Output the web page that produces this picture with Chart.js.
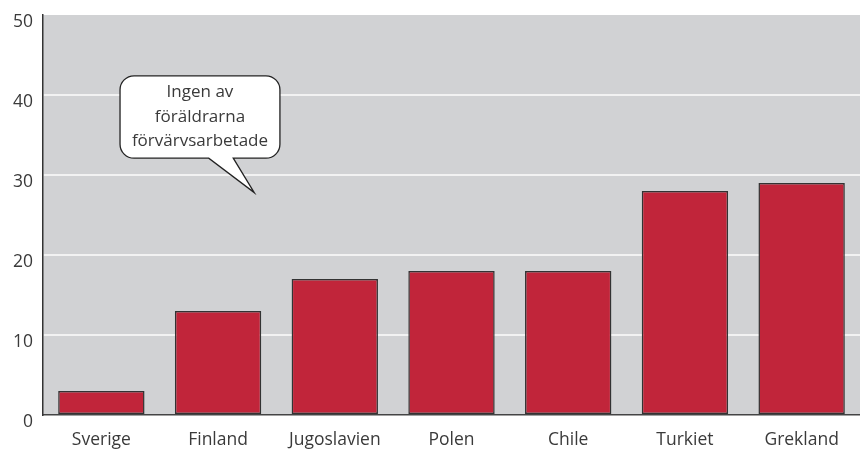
<!DOCTYPE html>
<html lang="sv">
<head>
  <meta charset="UTF-8" />
  <title>Ingen av föräldrarna förvärvsarbetade</title>
  <script src="https://cdn.jsdelivr.net/npm/chart.js"></script>
  <style>
    html, body { margin: 0; padding: 0; background: #fff; }
    .wrap { width: 860px; height: 450px; }
  </style>
</head>
<body>
  <div class="wrap"><canvas id="chart"></canvas></div>

<script>
const countries = ["Sverige", "Finland", "Jugoslavien", "Polen", "Chile", "Turkiet", "Grekland"];
const values = [3, 13, 17, 18, 18, 28, 29];
const yTicks = [0, 10, 20, 30, 40, 50];

const calloutLines = ["Ingen av", "föräldrarna", "förvärvsarbetade"];
// callout box in data units (category index, value)
const calloutBox = { x0: 0.16, x1: 1.53, y0: 32.1, y1: 42.4 };
const calloutTip = { x: 1.31, y: 27.8, base0: 0.92, base1: 1.13 };

const textColor = '#3a3a3a';
const fontFamily = "'Open Sans', 'Noto Sans', sans-serif";

// gray plot background
const plotBg = {
  id: 'plotBg',
  beforeDraw(chart) {
    const { ctx, chartArea: a } = chart;
    ctx.save();
    ctx.fillStyle = '#d1d2d4';
    ctx.fillRect(a.left, a.top, a.right - a.left, a.bottom - a.top);
    ctx.restore();
  }
};

// speech bubble
const callout = {
  id: 'callout',
  afterDatasetsDraw(chart) {
    const { ctx } = chart;
    const xs = chart.scales.x, ys = chart.scales.y;
    const px = v => xs.getPixelForValue(v);
    const py = v => ys.getPixelForValue(v);
    const l = px(calloutBox.x0), r = px(calloutBox.x1);
    const t = py(calloutBox.y1), b = py(calloutBox.y0);
    const rad = 14;
    ctx.save();
    ctx.beginPath();
    ctx.moveTo(l + rad, t);
    ctx.lineTo(r - rad, t);
    ctx.arcTo(r, t, r, t + rad, rad);
    ctx.lineTo(r, b - rad);
    ctx.arcTo(r, b, r - rad, b, rad);
    ctx.lineTo(px(calloutTip.base1), b);
    ctx.lineTo(px(calloutTip.x), py(calloutTip.y));
    ctx.lineTo(px(calloutTip.base0), b);
    ctx.lineTo(l + rad, b);
    ctx.arcTo(l, b, l, b - rad, rad);
    ctx.lineTo(l, t + rad);
    ctx.arcTo(l, t, l + rad, t, rad);
    ctx.closePath();
    ctx.fillStyle = '#fff';
    ctx.fill();
    ctx.lineWidth = 1.3;
    ctx.strokeStyle = '#222';
    ctx.stroke();

    ctx.fillStyle = textColor;
    ctx.font = "17px " + fontFamily;
    ctx.textAlign = 'center';
    ctx.textBaseline = 'middle';
    const cx = (l + r) / 2;
    const lh = 24.5;
    const cy = (t + b) / 2;
    calloutLines.forEach((s, i) => {
      ctx.fillText(s, cx, cy + (i - 1) * lh);
    });
    ctx.restore();
  }
};

new Chart(document.getElementById('chart'), {
  type: 'bar',
  data: {
    labels: countries,
    datasets: [{
      data: values,
      backgroundColor: '#c1253a',
      borderColor: '#333',
      borderWidth: 1.5,
      borderSkipped: false,
      categoryPercentage: 1,
      barPercentage: 0.74
    }]
  },
  options: {
    responsive: true,
    maintainAspectRatio: false,
    animation: false,
    layout: { padding: { top: 15, right: 0, left: 0, bottom: 0 } },
    plugins: {
      legend: { display: false },
      tooltip: { enabled: false }
    },
    scales: {
      x: {
        grid: { display: false, drawTicks: false },
        border: { display: true, color: '#444', width: 1.5 },
        ticks: {
          color: textColor,
          font: { size: 17.5, family: fontFamily },
          padding: 15,
          maxRotation: 0
        },
        afterFit(scale) {
          scale.height = 35;
          scale.paddingLeft = 0;
          scale.paddingRight = 0;
        }
      },
      y: {
        min: 0,
        max: 50,
        afterBuildTicks(scale) { scale.ticks = yTicks.map(v => ({ value: v })); },
        grid: {
          drawTicks: false,
          lineWidth: 2,
          color: ctx => (ctx.tick && ctx.tick.value > 0 && ctx.tick.value < 50) ? '#f2f2f2' : 'rgba(0,0,0,0)'
        },
        border: { display: true, color: '#333', width: 1.5 },
        ticks: {
          color: textColor,
          font: { size: 17.5, family: fontFamily },
          padding: 10,
          labelOffset: 7
        },
        afterFit(scale) {
          scale.width = 43;
          scale.paddingTop = 0;
          scale.paddingBottom = 0;
        }
      }
    }
  },
  plugins: [plotBg, callout]
});
</script>
</body>
</html>
